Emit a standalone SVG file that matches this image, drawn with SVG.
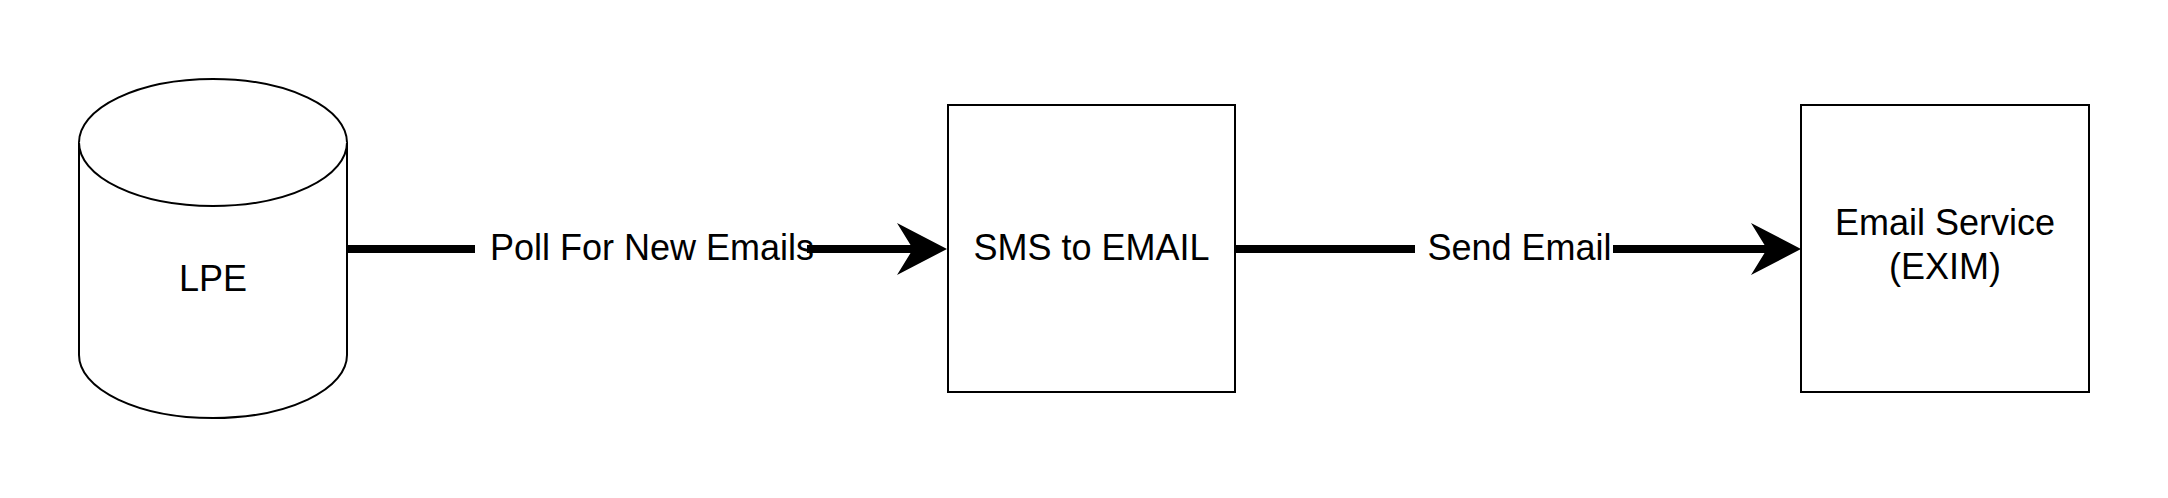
<svg xmlns="http://www.w3.org/2000/svg" width="2168" height="498" viewBox="0 0 2168 498">
  <style>
    .shape { fill: #ffffff; stroke: #000000; stroke-width: 2; }
    .label { font-family: "Liberation Sans", Arial, sans-serif; font-size: 36px; fill: #000000; text-anchor: middle; }
    .edge { stroke: #000000; stroke-width: 8; fill: none; }
    .lblbg { fill: #ffffff; stroke: none; }
  </style>
  <defs>
    <marker id="arrow" markerUnits="userSpaceOnUse" markerWidth="52" markerHeight="54" refX="16" refY="26" orient="auto" overflow="visible">
      <path d="M0,0 L50,26 L0,52 L16,26 Z" fill="#000000"/>
    </marker>
  </defs>
  <rect width="2168" height="498" fill="#ffffff"/>

  <g id="node-lpe">
    <path class="shape" d="M79,142.5 L79,355 A134,63 0 0 0 347,355 L347,142.5 A134,63.5 0 0 0 79,142.5 Z"/>
    <path class="shape" fill="none" d="M79,142.5 A134,63.5 0 0 0 347,142.5"/>
    <text class="label" x="213" y="291">LPE</text>
  </g>

  <g id="node-sms">
    <rect class="shape" x="948" y="105" width="287" height="287"/>
    <text class="label" x="1091.5" y="260">SMS to EMAIL</text>
  </g>

  <g id="node-email">
    <rect class="shape" x="1801" y="105" width="288" height="287"/>
    <text class="label" x="1945" y="235">Email Service</text>
    <text class="label" x="1945" y="279">(EXIM)</text>
  </g>

  <g id="connectors">
    <g id="edge-poll">
      <line class="edge" x1="347" y1="249" x2="913" y2="249" marker-end="url(#arrow)"/>
      <rect class="lblbg" x="475" y="228" width="332" height="42"/>
      <text class="label" x="652" y="260">Poll For New Emails</text>
    </g>
    <g id="edge-send">
      <line class="edge" x1="1235" y1="249" x2="1767" y2="249" marker-end="url(#arrow)"/>
      <rect class="lblbg" x="1415" y="228" width="198" height="42"/>
      <text class="label" x="1519.5" y="260">Send Email</text>
    </g>
  </g>
</svg>
